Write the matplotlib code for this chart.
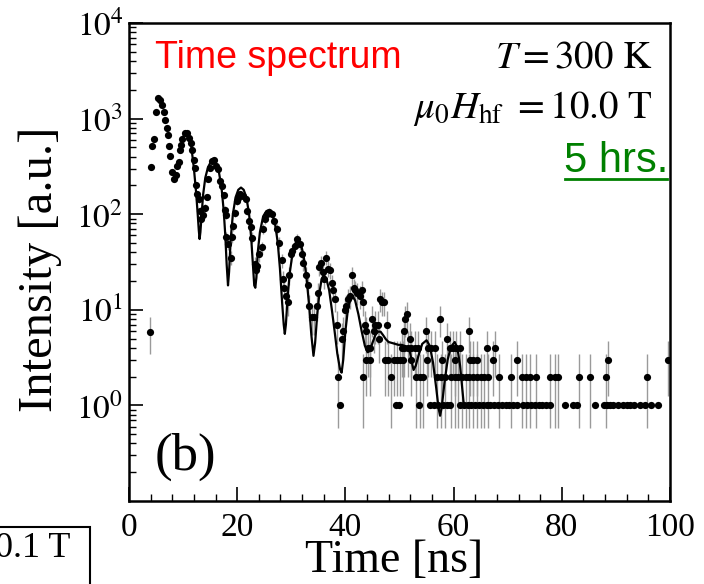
import numpy as np
import matplotlib
matplotlib.use("Agg")
import matplotlib.pyplot as plt
from matplotlib.ticker import FixedLocator, LogLocator, MultipleLocator, NullFormatter
from matplotlib.patches import Rectangle
from matplotlib.lines import Line2D
from matplotlib.transforms import IdentityTransform

# ---------------- data (time [ns], intensity) ----------------
pts_early = [(3.9, 5.9), (4.0, 314), (4.25, 515), (4.55, 605), (4.93, 1163), (5.36, 1641),
             (5.8, 1550), (6.16, 1400), (6.4, 1163), (6.7, 960), (7.0, 800), (7.2, 680),
             (7.39, 515), (7.64, 410), (7.95, 275), (8.3, 235), (8.6, 260), (8.9, 318),
             (9.2, 350), (9.36, 475), (9.55, 535), (9.86, 605), (10.3, 700), (10.8, 710),
             (11.1, 630), (11.4, 560), (11.7, 475), (11.95, 368), (12.26, 306), (12.45, 200),
             (12.6, 162), (12.9, 143), (13.1, 108), (13.4, 90), (13.7, 98), (14.0, 117),
             (14.4, 152), (14.66, 231), (15.0, 306), (15.3, 359), (15.8, 373), (16.1, 323),
             (16.4, 300), (16.8, 222), (17.2, 197), (17.56, 158), (17.7, 111), (17.9, 98)]

pts_middle = [(18.0, 58), (18.35, 49), (18.8, 35), (19.1, 58), (19.3, 75), (19.6, 104),
              (19.9, 137), (20.2, 149), (20.6, 161), (21.1, 155), (21.6, 145), (21.9, 108),
              (22.2, 85), (22.5, 73), (22.8, 57), (23.2, 30), (23.5, 26), (23.7, 29),
              (24.1, 38), (24.5, 45), (24.8, 70), (25.1, 89), (25.5, 100), (25.9, 106),
              (26.4, 100), (26.8, 85), (27.3, 70), (27.8, 50), (28.2, 33), (28.5, 21),
              (28.7, 17), (29.0, 14), (29.3, 12), (29.6, 23), (29.9, 38), (30.2, 41),
              (30.7, 47), (31.1, 55), (31.6, 49), (31.9, 38), (32.2, 31), (32.7, 23),
              (33.0, 18), (33.3, 11), (33.8, 8.4), (34.2, 8.4), (34.7, 11), (35.0, 15)]

pts_late = [(35.2, 28), (35.5, 31), (35.8, 25), (36.0, 21), (36.4, 35), (36.7, 27),
            (37.2, 26), (37.5, 19), (37.8, 16), (38.1, 13), (38.4, 7), (39.3, 5),
            (39.6, 6), (39.9, 10), (40.2, 11), (40.5, 13), (40.8, 14), (41.2, 23),
            (41.5, 17), (41.8, 16), (42.2, 15), (42.7, 14), (43.0, 16), (43.2, 12),
            (43.6, 7), (43.9, 6), (44.9, 8), (45.2, 6), (45.5, 7), (46.1, 7), (46.2, 5),
            (46.4, 13), (46.7, 12), (47.1, 12), (47.6, 7), (50.8, 6), (51.0, 8),
            (51.3, 9), (51.9, 5), (54.9, 6), (57.4, 8), (58.8, 5), (62.9, 6)]

t_count1 = [39.0, 49.3, 49.9, 53.6, 55.6, 56.3, 57.2, 58.0, 58.7, 59.3, 61.2, 61.9, 62.6,
            63.3, 64.0, 64.7, 65.4, 66.1, 66.8, 67.5, 68.2, 68.9, 69.6, 70.3, 71.0, 71.7,
            72.9, 73.6, 74.3, 75.0, 75.7, 76.4, 77.1, 77.8, 80.6, 82.1, 82.8, 86.2, 87.8,
            88.4, 88.9, 89.5, 90.3, 91.4, 92.0, 92.6, 93.4, 94.4, 95.3, 96.5, 97.7]
t_count2 = [38.6, 43.3, 48.5, 53.1, 53.8, 54.4, 56.9, 57.6, 58.4, 59.6, 60.2, 60.9, 61.5,
            62.2, 62.9, 63.6, 64.3, 65.0, 65.7, 66.4, 68.3, 70.6, 72.6, 73.4, 74.2, 75.2,
            77.9, 78.7, 79.3, 83.2, 85.3, 88.1, 95.8]
t_count3 = [43.9, 44.5, 47.3, 47.9, 48.9, 49.5, 50.1, 50.7, 52.2, 55.0, 57.8, 60.3, 63.1,
            63.6, 64.3, 67.2, 71.8, 88.5, 99.7]
t_count4 = [44.2, 44.6, 50.4, 50.9, 51.6, 52.2, 52.8, 53.4, 55.3, 55.9, 56.6, 59.3, 59.9,
            60.5, 61.1, 66.2, 67.7]

fit_seg1 = [(9.9, 620), (10.3, 700), (10.6, 720), (11.0, 660), (11.5, 520), (12.0, 300),
            (12.4, 170), (12.7, 100), (12.9, 68), (13.05, 55), (13.2, 65), (13.4, 95),
            (13.7, 160), (14.1, 240), (14.6, 310), (15.1, 350), (15.6, 360), (16.1, 340),
            (16.6, 280), (17.1, 190), (17.5, 110), (17.8, 60), (18.05, 30), (18.3, 18),
            (18.5, 25), (18.8, 55), (19.2, 100), (19.7, 150), (20.2, 180), (20.7, 190),
            (21.2, 180), (21.7, 150), (22.2, 100), (22.6, 55), (22.9, 30), (23.15, 18),
            (23.35, 17), (23.55, 22), (23.8, 40), (24.2, 65), (24.8, 95), (25.4, 108),
            (26.0, 110), (26.5, 100), (27.0, 80), (27.5, 50), (27.9, 27), (28.3, 12),
            (28.6, 7), (28.8, 5.6), (29.0, 7), (29.3, 13), (29.7, 24), (30.2, 38)]
fit_seg2 = [(30.8, 50), (31.3, 53), (31.8, 48), (32.3, 36), (32.8, 22), (33.3, 11),
            (33.7, 5.5), (34.1, 3.3), (34.4, 4.5), (34.8, 9), (35.2, 15), (35.6, 21),
            (36.0, 23), (36.5, 21), (37.0, 16), (37.5, 10), (38.0, 6), (38.5, 3.5),
            (39.0, 2.4), (39.3, 2.2), (39.6, 3), (40.0, 6), (40.5, 10.5), (41.0, 13.5),
            (41.3, 14), (41.8, 12.5), (42.4, 9), (43.0, 6), (43.6, 4.2), (44.1, 3.6),
            (44.5, 3.7), (45.0, 4.5), (45.5, 5.4), (46.0, 5.9), (46.5, 5.9), (47.0, 5.4),
            (47.5, 4.9), (48.0, 4.6), (48.6, 4.5), (49.2, 4.4), (49.8, 4.3), (50.4, 4.3),
            (50.9, 4.2), (51.4, 4.1), (51.9, 3.7), (52.3, 2.8), (52.6, 2.35), (53.0, 2.6),
            (53.5, 3.3), (54.2, 4.4), (55.0, 4.8), (55.6, 4.2), (56.2, 2.8), (56.8, 1.5),
            (57.2, 0.95), (57.5, 0.78), (57.8, 0.95), (58.3, 1.7), (58.9, 3.0), (59.5, 4.1),
            (60.2, 4.6), (60.7, 4.0), (61.2, 2.6), (61.6, 1.5), (61.9, 1.0), (62.5, 1.0)]

x_ticks = [0, 20, 40, 60, 80, 100]
y_ticks = [1, 10, 100, 1000, 10000]

# ---------------- assemble ----------------
pts = pts_early + pts_middle + pts_late
t_all = [p[0] for p in pts] + t_count1 + t_count2 + t_count3 + t_count4
y_all = ([p[1] for p in pts] + [1] * len(t_count1) + [2] * len(t_count2)
         + [3] * len(t_count3) + [4] * len(t_count4))
t_all = np.array(t_all, dtype=float)
y_all = np.array(y_all, dtype=float)
yerr = np.where(y_all > 1, np.sqrt(y_all), 0.0)

fit = fit_seg1 + fit_seg2
fit_t = [p[0] for p in fit]
fit_y = [p[1] for p in fit]

plt.rcParams['mathtext.fontset'] = 'stix'
plt.rcParams['font.family'] = ['Liberation Serif', 'DejaVu Serif']

fig = plt.figure(figsize=(7.04, 5.84), dpi=100)
ax = fig.add_axes([129 / 704, 1 - 501 / 584, 541 / 704, 478 / 584])

ax.errorbar(t_all, y_all, yerr=yerr, fmt='none', ecolor='#9a9a9a', elinewidth=1.0,
            capsize=0, zorder=1)
ax.plot(fit_t, fit_y, color='black', lw=1.6, zorder=2)
ax.plot(t_all, y_all, 'o', color='black', ms=5.2, mew=0, zorder=3)

ax.set_xlim(0, 100)
ax.set_yscale('log')
ax.set_ylim(0.1, 1e4)

ax.xaxis.set_major_locator(FixedLocator(x_ticks))
ax.xaxis.set_minor_locator(MultipleLocator(4))
ax.yaxis.set_major_locator(FixedLocator(y_ticks))
ax.yaxis.set_minor_locator(LogLocator(base=10, subs=np.arange(2, 10)))
ax.yaxis.set_minor_formatter(NullFormatter())
ax.set_yticklabels([r'$10^{%d}$' % int(np.log10(v)) for v in y_ticks])

ax.tick_params(axis='both', which='both', direction='in', top=False, right=False)
ax.tick_params(axis='both', which='major', length=10, width=1.2, labelsize=24)
ax.tick_params(axis='both', which='minor', length=5, width=1.0)
ax.tick_params(axis='x', which='major', pad=8)
ax.tick_params(axis='y', which='major', pad=4)
for s in ax.spines.values():
    s.set_linewidth(1.8)

ax.set_xlabel('Time [ns]', fontsize=33)
ax.set_ylabel('Intensity [a.u.]', fontsize=35)
ax.xaxis.set_label_coords(0.49, -0.081)
ax.yaxis.set_label_coords(-0.124, 0.485)

ax.text(0.048, 0.906, 'Time spectrum', color='red', fontsize=27,
        family=['Liberation Sans', 'DejaVu Sans'], transform=ax.transAxes,
        ha='left', va='baseline')
ax.text(0.967, 0.906, r'$T = 300\ \mathrm{K}$', fontsize=28, transform=ax.transAxes,
        ha='right', va='baseline')
ax.text(0.967, 0.801, r'$\mu_0 H_{\mathrm{hf}}\ = 10.0\ \mathrm{T}$', fontsize=28,
        transform=ax.transAxes, ha='right', va='baseline')
t5 = ax.text(0.996, 0.688, '5 hrs.', color='#008000', fontsize=30,
             family=['Liberation Sans', 'DejaVu Sans'], transform=ax.transAxes,
             ha='right', va='baseline')
ax.text(0.048, 0.065, '(b)', fontsize=38, transform=ax.transAxes, ha='left', va='baseline')

# partial neighbouring panel box at lower left
fig.patches.append(Rectangle((-20 / 704, -20 / 584), 110 / 704, (584 - 527 + 20) / 584,
                             transform=fig.transFigure, fill=False, lw=1.5, ec='black'))
fig.text(70 / 704, 1 - 557 / 584, '0.1 T', fontsize=26, ha='right', va='baseline')

fig.canvas.draw()
bb = t5.get_window_extent()
fig.add_artist(Line2D([bb.x0 + 1, bb.x1 - 1], [bb.y0 + 2, bb.y0 + 2], color='#008000', lw=2,
                      transform=IdentityTransform()))

fig.savefig('out.png', dpi=100)
